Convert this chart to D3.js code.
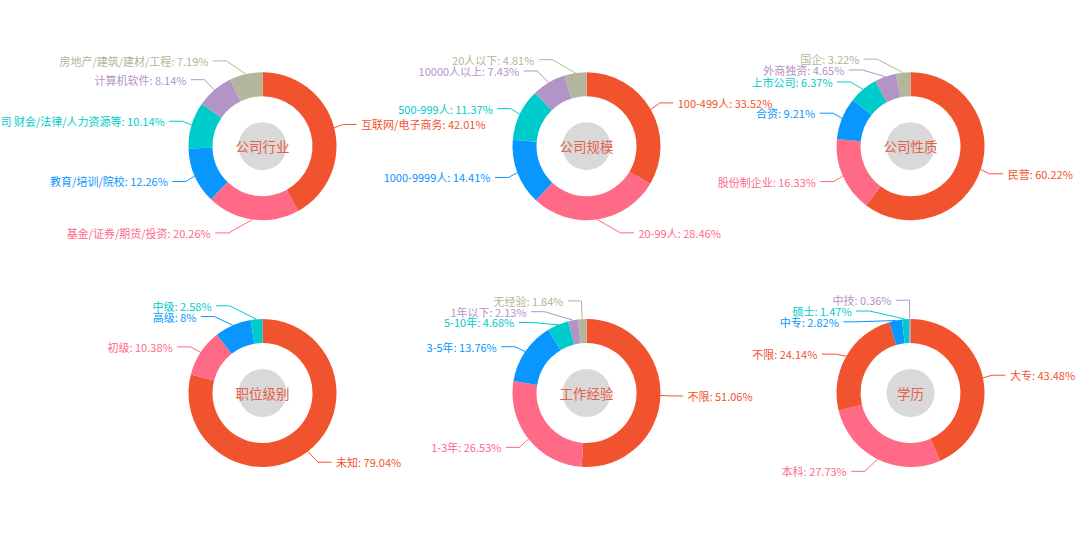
<!DOCTYPE html>
<html>
<head>
<meta charset="UTF-8">
<title>招聘数据 饼图</title>
<script src="https://cdn.jsdelivr.net/npm/d3@7/dist/d3.min.js"></script>
<style>
  html, body { margin: 0; padding: 0; background: #fff; }
  #pies { width: 1080px; height: 544px; overflow: hidden; }
  text { font-family: "Noto Sans CJK SC", "Microsoft YaHei", sans-serif; }
</style>
</head>
<body>
<div id="pies"></div>
<script>
// ---- data ----
var titles = ['公司行业', '公司规模', '公司性质', '职位级别', '工作经验', '学历'];

var industryNames = ['互联网/电子商务', '基金/证券/期货/投资', '教育/培训/院校', '专业服务/咨询公司 财会/法律/人力资源等', '计算机软件', '房地产/建筑/建材/工程'];
var industryValues = [42.01, 20.26, 12.26, 10.14, 8.14, 7.19];

var scaleNames = ['100-499人', '20-99人', '1000-9999人', '500-999人', '10000人以上', '20人以下'];
var scaleValues = [33.52, 28.46, 14.41, 11.37, 7.43, 4.81];

var natureNames = ['民营', '股份制企业', '合资', '上市公司', '外商独资', '国企'];
var natureValues = [60.22, 16.33, 9.21, 6.37, 4.65, 3.22];

var levelNames = ['未知', '初级', '高级', '中级'];
var levelValues = [79.04, 10.38, 8, 2.58];

var expNames = ['不限', '1-3年', '3-5年', '5-10年', '1年以下', '无经验'];
var expValues = [51.06, 26.53, 13.76, 4.68, 2.13, 1.84];

var eduNames = ['大专', '本科', '不限', '中专', '硕士', '中技'];
var eduValues = [43.48, 27.73, 24.14, 2.82, 1.47, 0.36];

// ---- style ----
var RED = '#f2532f', PINK = '#ff6a86', BLUE = '#0a96ff', TEAL = '#00cbcb', PURPLE = '#b294c7', KHAKI = '#b3b69a';
var palette = [RED, PINK, BLUE, TEAL, PURPLE, KHAKI];
var eduColors = [RED, PINK, RED, BLUE, TEAL, PURPLE];

var charts = [
  {names: industryNames, values: industryValues, colors: palette},
  {names: scaleNames, values: scaleValues, colors: palette},
  {names: natureNames, values: natureValues, colors: palette},
  {names: levelNames, values: levelValues, colors: palette},
  {names: expNames, values: expValues, colors: palette},
  {names: eduNames, values: eduValues, colors: eduColors}
];

var W = 1080, H = 544;
var colX = [262.5, 586.5, 910.5], rowY = [146.2, 393];
var R_IN = 50, R_OUT = 74, R_DOT = 24;
var LEN = 13.5, LEN2 = 13.5, LABEL_DIST = 4.5, LABEL_H = 10.8;

var svg = d3.select('#pies').append('svg')
    .attr('width', W)
    .attr('height', H);

var pie = d3.pie().sort(null).value(function (d) { return d.value; });
var arc = d3.arc().innerRadius(R_IN).outerRadius(R_OUT);
var line = d3.line();

// echarts-like label overlap handling for one side
function adjustSide(list, cx, cy, r, dir) {
    function shiftDown(start, end, delta) {
        for (var j = start; j < end; j++) {
            list[j].y += delta;
            if (j > start && j + 1 < end && list[j + 1].y > list[j].y + list[j].height) {
                shiftUp(j, delta / 2);
                return;
            }
        }
        shiftUp(end - 1, delta / 2);
    }
    function shiftUp(end, delta) {
        for (var j = end; j >= 0; j--) {
            list[j].y -= delta;
            if (j > 0 && list[j].y > list[j - 1].y + list[j - 1].height) break;
        }
    }
    function changeX(sub, isDown) {
        var last = isDown ? Number.MAX_VALUE : 0;
        sub.forEach(function (l) {
            var deltaY = Math.abs(l.y - cy);
            var deltaX = deltaY < r + LEN
                ? Math.sqrt((r + LEN + LEN2) * (r + LEN + LEN2) - deltaY * deltaY)
                : Math.abs(l.x - cx);
            if (isDown && deltaX >= last) deltaX = last - 10;
            if (!isDown && deltaX <= last) deltaX = last + 10;
            l.x = cx + deltaX * dir;
            last = deltaX;
        });
    }
    list.sort(function (a, b) { return a.y - b.y; });
    var lastY = 0;
    for (var i = 0; i < list.length; i++) {
        var delta = list[i].y - lastY;
        if (delta < 0) shiftDown(i, list.length, -delta);
        lastY = list[i].y + list[i].height;
    }
    changeX(list.filter(function (l) { return l.y < cy; }), false);
    changeX(list.filter(function (l) { return l.y >= cy; }), true);
}

function layoutLabels(arcs, cx, cy) {
    var all = arcs.map(function (d) {
        var mid = (d.startAngle + d.endAngle) / 2;
        var dx = Math.sin(mid), dy = -Math.cos(mid);
        var dir = dx < 0 ? -1 : 1;
        var x1 = cx + R_OUT * dx, y1 = cy + R_OUT * dy;
        var x2 = cx + (R_OUT + LEN) * dx, y2 = cy + (R_OUT + LEN) * dy;
        var x3 = x2 + dir * LEN2;
        return {d: d, dir: dir, x: x3 + dir * LABEL_DIST, y: y2, height: LABEL_H,
                pts: [[x1, y1], [x2, y2], [x3, y2]]};
    });
    adjustSide(all.filter(function (l) { return l.x >= cx; }), cx, cy, R_OUT, 1);
    adjustSide(all.filter(function (l) { return l.x < cx; }), cx, cy, R_OUT, -1);
    all.forEach(function (l) {
        l.pts[2][0] = l.x - l.dir * LABEL_DIST;
        l.pts[1][0] = l.pts[2][0] - l.dir * LEN2;
        l.pts[1][1] = l.pts[2][1] = l.y;
    });
    return all;
}

charts.forEach(function (c, k) {
    var cx = colX[k % 3], cy = rowY[Math.floor(k / 3)];
    var data = c.names.map(function (n, i) { return {name: n, value: c.values[i], color: c.colors[i]}; });
    var arcs = pie(data);

    var g = svg.append('g').attr('class', 'pie');

    g.append('g')
        .attr('transform', 'translate(' + cx + ',' + cy + ')')
        .selectAll('path')
        .data(arcs)
        .enter()
        .append('path')
        .attr('d', arc)
        .attr('fill', function (d) { return d.data.color; });

    g.append('circle')
        .attr('cx', cx)
        .attr('cy', cy)
        .attr('r', R_DOT)
        .attr('fill', '#d9d9d9');

    g.append('text')
        .attr('x', cx)
        .attr('y', cy)
        .attr('text-anchor', 'middle')
        .attr('dominant-baseline', 'central')
        .attr('font-size', '13.5px')
        .attr('fill', '#e5604a')
        .text(titles[k]);

    var labels = layoutLabels(arcs, cx, cy);

    g.selectAll('path.label-line')
        .data(labels)
        .enter()
        .append('path')
        .attr('class', 'label-line')
        .attr('d', function (l) { return line(l.pts); })
        .attr('fill', 'none')
        .attr('stroke', function (l) { return l.d.data.color; })
        .attr('stroke-width', 1);

    g.selectAll('text.label')
        .data(labels)
        .enter()
        .append('text')
        .attr('class', 'label')
        .attr('x', function (l) { return l.x; })
        .attr('y', function (l) { return l.y; })
        .attr('text-anchor', function (l) { return l.dir < 0 ? 'end' : 'start'; })
        .attr('dominant-baseline', 'central')
        .attr('font-size', '11px')
        .attr('fill', function (l) { return l.d.data.color; })
        .text(function (l) { return l.d.data.name + ': ' + l.d.data.value + '%'; });
});
</script>
</body>
</html>
